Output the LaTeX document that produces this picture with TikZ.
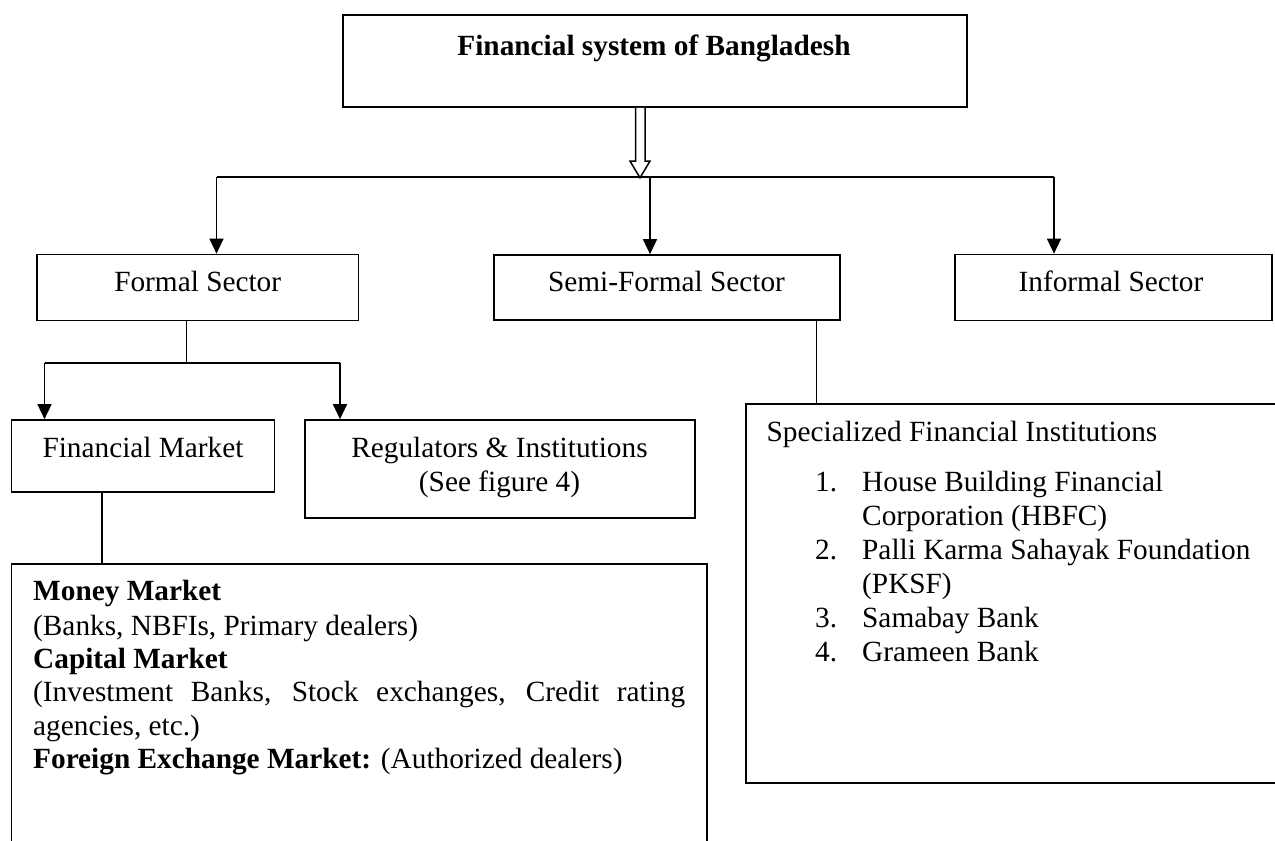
\documentclass[tikz,border=0pt]{standalone}
\usepackage{fontspec}
\setmainfont{Liberation Serif}
\usetikzlibrary{arrows.meta,calc}
\begin{document}
\begin{tikzpicture}[x=1pt,y=-1pt,
  box/.style={draw, line width=1.7pt, inner sep=0pt},
  lbl/.style={inner sep=0pt, font=\fontsize{29.3}{33.6}\selectfont},
  conn/.style={line width=1.6pt},
  arr/.style={line width=1.6pt, -{Triangle[width=14pt,length=15pt]}},
  hollow/.style={line width=1.5pt, fill=white, line join=miter}]
\useasboundingbox (0,0) rectangle (1275,841);
\fill[white] (0,0) rectangle (1275,841);
\clip (0,0) rectangle (1275,841);

% boxes
\node[box, line width=2.2pt, minimum width=624.6pt, minimum height=91.7pt] (title) at (655,60.85) {};
\node[box, minimum width=321.5pt, minimum height=66pt] (formal) at (197.7,287.5) {};
\node[box, minimum width=346pt, minimum height=65pt] (semi) at (667,287.5) {};
\node[box, minimum width=317pt, minimum height=66pt] (informal) at (1113.5,287.5) {};
\node[box, minimum width=263.1pt, minimum height=71.7pt] (finmkt) at (143,455.85) {};
\node[box, minimum width=389.4pt, minimum height=98.3pt] (regs) at (500,469.15) {};
\node[box, minimum width=695.2pt, minimum height=330pt] (money) at (359.1,729) {};
\node[box, minimum width=554pt, minimum height=379pt] (special) at (1023,593.5) {};

% box texts
\node[lbl, anchor=base] (titletext) at (654,55) {\bfseries Financial system of Bangladesh};
\node[lbl, anchor=base] (formaltext) at (197.7,291.7) {Formal Sector};
\node[lbl, anchor=base] (semitext) at (666.5,291.7) {Semi-Formal Sector};
\node[lbl, anchor=base] (informaltext) at (1111,291.7) {Informal Sector};
\node[lbl, anchor=base] (finmkttext) at (143,457) {Financial Market};
\node[lbl, anchor=base] (regstext1) at (499.5,457.3) {Regulators \& Institutions};
\node[lbl, anchor=base] (regstext2) at (499.5,491.7) {(See figure 4)};

% financial market contents
\node[lbl, anchor=base west] (mm1) at (33,600) {\bfseries Money Market};
\node[lbl, anchor=base west] (mm2) at (33,635) {(Banks, NBFIs, Primary dealers)};
\node[lbl, anchor=base west] (mm3) at (33,668) {\bfseries Capital Market};
\node[lbl, anchor=base west] (mm4) at (33,701.7) {\makebox[652pt][s]{(Investment Banks, Stock exchanges, Credit rating}};
\node[lbl, anchor=base west] (mm5) at (33,735) {agencies, etc.)};
\node[lbl, anchor=base west] (mm6) at (33,768) {\textbf{Foreign Exchange Market:} (Authorized dealers)};

% specialized institutions list
\node[lbl, anchor=base west] (sp0) at (766.5,441.7) {Specialized Financial Institutions};
\node[lbl, anchor=base west] (n1) at (815,491.7) {1.};
\node[lbl, anchor=base west] (sp1) at (862,491.7) {House Building Financial};
\node[lbl, anchor=base west] (sp1b) at (862,525.7) {Corporation (HBFC)};
\node[lbl, anchor=base west] (n2) at (815,559.7) {2.};
\node[lbl, anchor=base west] (sp2) at (862,559.7) {Palli Karma Sahayak Foundation};
\node[lbl, anchor=base west] (sp2b) at (862,593.7) {(PKSF)};
\node[lbl, anchor=base west] (n3) at (815,627.7) {3.};
\node[lbl, anchor=base west] (sp3) at (862,627.7) {Samabay Bank};
\node[lbl, anchor=base west] (n4) at (815,661.7) {4.};
\node[lbl, anchor=base west] (sp4) at (862,661.7) {Grameen Bank};

% block arrow from the title down to the distribution bus
\coordinate (hub) at ($(title.south)+(-15,70)$);
\draw[hollow] ($(title.south)+(-19.5,0)$) -- ($(title.south)+(-19.5,53.3)$)
  -- ($(title.south)+(-25,53.3)$) -- (hub) -- ($(title.south)+(-5,53.3)$)
  -- ($(title.south)+(-10,53.3)$) -- ($(title.south)+(-10,0)$);

% distribution bus to the three sectors
\coordinate (busL) at (216.5,176.7);
\coordinate (busM) at (650,176.7);
\coordinate (busR) at (1054,176.7);
\draw[conn] (busL) -- (busR);
\draw[arr] (busL) -- (busL |- formal.north);
\draw[arr] (busM) -- (busM |- semi.north);
\draw[arr] (busR) -- (busR |- informal.north);

% formal sector branches
\coordinate (fsplit) at (186.5,362.7);
\coordinate (fL) at (44.5,362.7);
\coordinate (fR) at (340,362.7);
\draw[conn] (fsplit |- formal.south) -- (fsplit);
\draw[conn] (fL) -- (fR);
\draw[arr] (fL) -- (fL |- finmkt.north);
\draw[arr] (fR) -- (fR |- regs.north);

% financial market to its contents
\coordinate (fmdrop) at (102,0);
\draw[conn] (fmdrop |- finmkt.south) -- (fmdrop |- money.north);

% semi-formal sector to specialized institutions
\coordinate (sdrop) at (816.5,0);
\draw[conn] (sdrop |- semi.south) -- (sdrop |- special.north);
\end{tikzpicture}
\end{document}
